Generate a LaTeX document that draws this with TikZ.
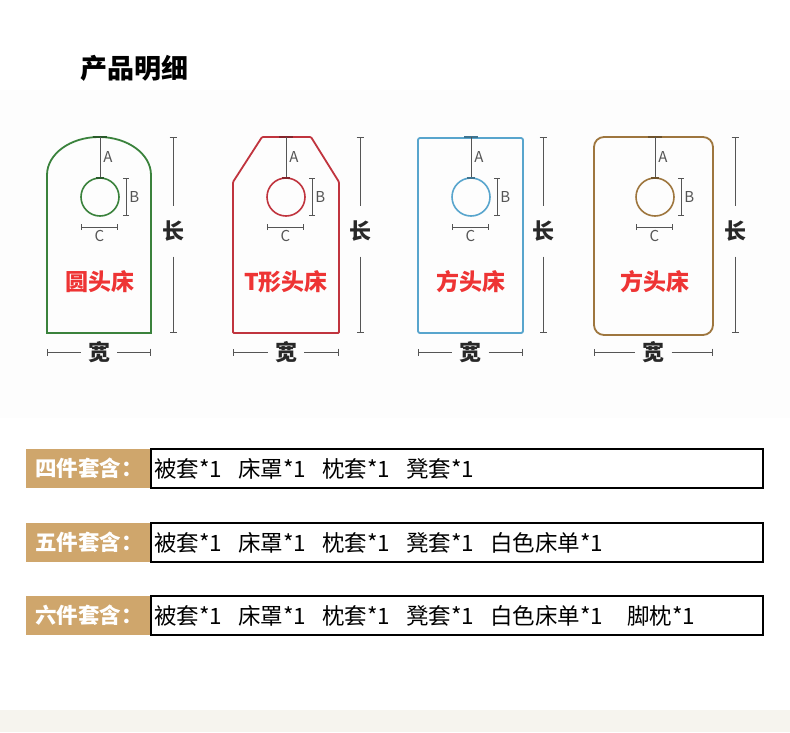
\documentclass[tikz,border=0pt]{standalone}
\usepackage{fontspec}
\setmainfont{Noto Sans CJK SC}
\usetikzlibrary{arrows.meta}
\definecolor{kittan}{RGB}{207,166,108}
\definecolor{namered}{RGB}{238,52,52}
\definecolor{textgray}{RGB}{40,40,40}
\definecolor{dimgray}{RGB}{85,85,85}
\definecolor{bedgreen}{RGB}{58,130,60}
\definecolor{bedred}{RGB}{192,52,62}
\definecolor{bedblue}{RGB}{88,165,205}
\definecolor{bedbrown}{RGB}{158,118,62}
\definecolor{stripbeige}{RGB}{246,244,238}
\definecolor{haze}{RGB}{253,253,253}
\newcommand\gap{\hspace{16pt}}
\begin{document}
\begin{tikzpicture}[x=1pt,y=-1pt,
	outline/.style={line width=1.8pt},
	topbar/.style={line width=2.6pt},
	dim/.style={draw=dimgray,line width=0.6pt},
	letter/.style={text=dimgray,font=\fontsize{15}{15}\selectfont,inner sep=0pt},
	side/.style={text=textgray,font=\fontsize{22}{22}\selectfont\bfseries,inner sep=0pt},
	bedname/.style={text=namered,font=\fontsize{23}{23}\selectfont\bfseries},
	kitlabel/.style={text=white,font=\fontsize{21.5}{21.5}\selectfont\bfseries},
	kititems/.style={text=black,font=\fontsize{22.5}{22.5}\selectfont,inner xsep=3pt}]
	\useasboundingbox (0,0) rectangle (790,732);
	\fill[white] (0,0) rectangle (790,732);
	\fill[haze] (0,90) rectangle (790,418);
	\fill[stripbeige] (0,710) rectangle (790,732);
	\node[font=\fontsize{27}{27}\selectfont\bfseries] (title) at (134,68) {产品明细};
	% outlines
	\draw[outline,bedgreen] (47,333) -- (47,175) arc[start angle=180,end angle=0,x radius=52pt,y radius=38pt] -- (151,333) -- cycle;
	\draw[outline,bedred,rounded corners=1pt] (233,333) -- (233,182) -- (262,137) -- (311,137) -- (339,182) -- (339,333) -- cycle;
	\draw[outline,bedblue,rounded corners=2pt] (418,138) rectangle (523,333);
	\draw[outline,bedbrown,rounded corners=10pt] (594,137) rectangle (713,335);
	\foreach \cx/\lf/\rt/\lx/\col/\bed [count=\i] in {100/47/151/173/bedgreen/圆头床,286/233/339/360/bedred/T形头床,471/418/523/543/bedblue/方头床,655/594/713/735/bedbrown/方头床}{
		\draw[topbar,\col!70!black] (\cx-7,137) -- (\cx+7,137);
		\coordinate (top\i) at (\cx,137);
		\node[draw=\col,line width=1.6pt,circle,minimum size=38pt,inner sep=0pt] (ring\i) at (\cx,197) {};
		\draw[line width=1.8pt,\col!70!black] (\cx-4,178) -- (\cx+4,178);
		\draw[dim] (top\i) -- (ring\i.north) node[letter,midway,right=3pt]{A};
		\draw[dim,{Bar[width=6pt]}-{Bar[width=6pt]}] (\cx+26,178) -- (\cx+26,216) node[letter,midway,right=3pt]{B};
		\draw[dim,{Bar[width=6pt]}-{Bar[width=6pt]}] (\cx-19,227) -- (\cx+18,227) node[letter,midway,below=3pt]{C};
		\node[bedname] (bed\i) at (\cx,282) {\bed};
		% length and width
		\node[side,inner ysep=15pt] (len\i) at (\lx,231) {长};
		\draw[dim,{Bar[width=7pt]}-] (\lx,137) -- (len\i.north);
		\draw[dim,-{Bar[width=7pt]}] (len\i.south) -- (\lx,333);
		\node[side,inner xsep=7pt] (wid\i) at ({(\lf+\rt)/2},352) {宽};
		\draw[dim,{Bar[width=7pt]}-] (\lf,352) -- (wid\i.west);
		\draw[dim,-{Bar[width=7pt]}] (wid\i.east) -- (\rt,352);
	}
	% sets
	\foreach \y/\kit/\items [count=\j] in {449/四件套含：/{被套*1\gap 床罩*1\gap 枕套*1\gap 凳套*1},523/五件套含：/{被套*1\gap 床罩*1\gap 枕套*1\gap 凳套*1\gap 白色床单*1},596/六件套含：/{被套*1\gap 床罩*1\gap 枕套*1\gap 凳套*1\gap 白色床单*1\hspace{24pt}脚枕*1}}{
		\fill[kittan] (26,\y) rectangle (151,\y+39);
		\draw[line width=1.2pt] (151,\y) rectangle (763,\y+39);
		\node[kitlabel] (kit\j) at (89,\y+19.5) {\kit};
		\node[kititems,anchor=west] (items\j) at (151,\y+19.5) {\items};
	}
\end{tikzpicture}
\end{document}
